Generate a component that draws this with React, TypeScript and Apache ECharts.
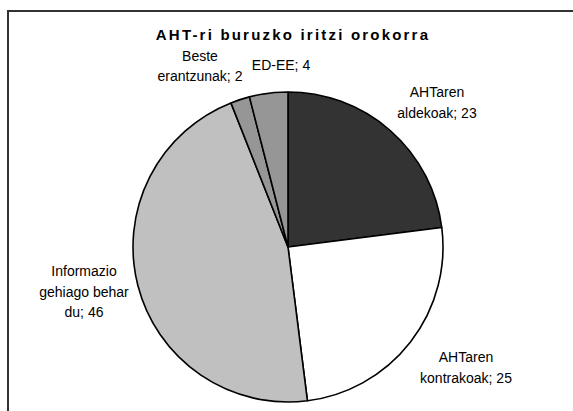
import React, { useEffect, useRef } from "react";
import * as echarts from "echarts";

const titleText = "AHT-ri buruzko iritzi orokorra";
const categories = [
  "AHTaren\naldekoak",
  "AHTaren\nkontrakoak",
  "Informazio\ngehiago behar\ndu",
  "Beste\nerantzunak",
  "ED-EE",
];
const values = [23, 25, 46, 2, 4];
const sliceColors = ["#333333", "#ffffff", "#c0c0c0", "#969696", "#969696"];
// label anchor positions (chart pixel coords)
const labelPos: [number, number][] = [
  [430, 92.5],
  [459, 357.5],
  [77, 281.5],
  [193, 56],
  [274, 55],
];

export default function App() {
  const ref = useRef<HTMLDivElement>(null);
  useEffect(() => {
    if (!ref.current) return;
    const chart = echarts.init(ref.current, undefined, { renderer: "svg" });
    chart.setOption({
      animation: false,
      title: {
        text: titleText,
        left: 281,
        top: 12,
        textAlign: "center",
        textStyle: {
          fontFamily: "Liberation Sans",
          fontSize: 15,
          fontWeight: "bold",
          color: "#000",
        },
      },
      series: [
        {
          type: "pie",
          center: [281, 237],
          radius: [0, 155],
          startAngle: 90,
          clockwise: true,
          silent: true,
          avoidLabelOverlap: false,
          data: categories.map((c, i) => ({
            name: c,
            value: values[i],
            itemStyle: { color: sliceColors[i] },
          })),
          itemStyle: { borderColor: "#000", borderWidth: 1.6 },
          label: {
            show: true,
            position: "outside",
            formatter: "{b}; {c}",
            fontFamily: "Liberation Sans",
            fontSize: 14,
            lineHeight: 20.5,
            color: "#000",
            align: "center",
            overflow: "none",
          },
          labelLine: { show: false },
          labelLayout: (p: any) => ({
            x: labelPos[p.dataIndex][0],
            y: labelPos[p.dataIndex][1],
            align: "center",
            verticalAlign: "middle",
            hideOverlap: false,
          }),
          emphasis: { disabled: true },
        },
      ],
    });
    return () => chart.dispose();
  }, []);
  return (
    <div
      style={{
        position: "fixed",
        left: 7,
        top: 10,
        width: 566,
        height: 401,
        overflow: "hidden",
        background: "#fff",
      }}
    >
      <style>{`#chartbox text[style*="bold"]{letter-spacing:2.2px;}`}</style>
      <div
        style={{
          position: "absolute",
          left: 0,
          top: 0,
          width: 1000,
          height: 1000,
          border: "2px solid #333",
          boxSizing: "border-box",
        }}
      />
      <div
        id="chartbox"
        ref={ref}
        style={{ position: "absolute", left: 0, top: 0, width: 566, height: 401 }}
      />
    </div>
  );
}
